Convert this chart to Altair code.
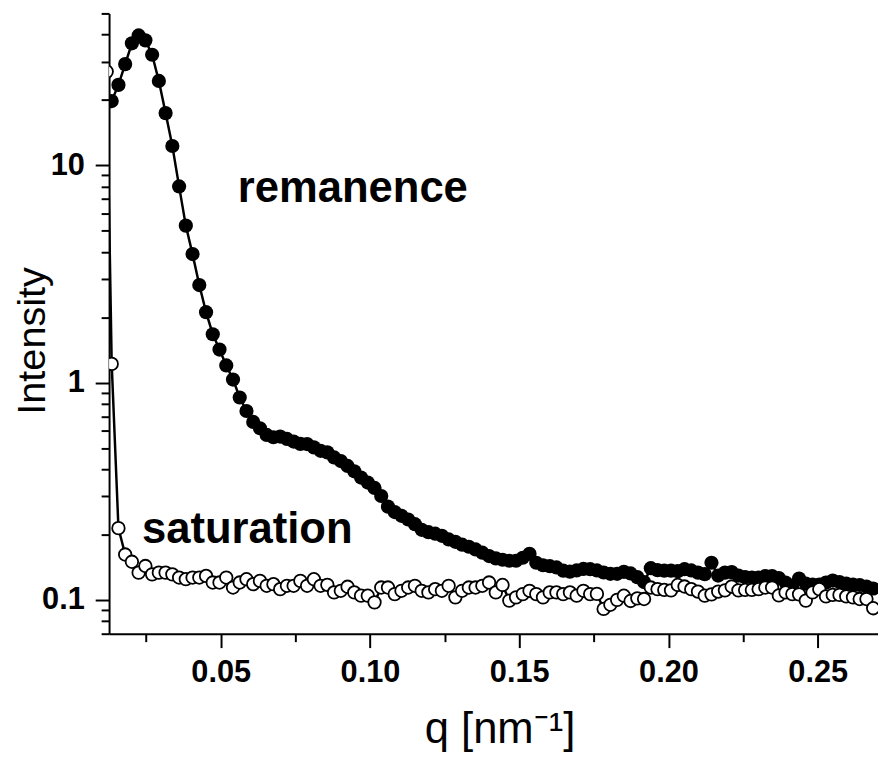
import altair as alt
import pandas as pd

# shared q grid (nm^-1)
q = [0.01348, 0.01574, 0.01799, 0.02025, 0.02251, 0.02477, 0.02702, 0.02928, 0.03154, 0.03380,
     0.03606, 0.03831, 0.04057, 0.04283, 0.04509, 0.04734, 0.04960, 0.05186, 0.05412, 0.05637,
     0.05863, 0.06089, 0.06315, 0.06540, 0.06766, 0.06992, 0.07218, 0.07443, 0.07669, 0.07895,
     0.08121, 0.08346, 0.08572, 0.08798, 0.09024, 0.09250, 0.09475, 0.09701, 0.09927, 0.10153,
     0.10378, 0.10604, 0.10830, 0.11056, 0.11281, 0.11507, 0.11733, 0.11959, 0.12184, 0.12410,
     0.12636, 0.12862, 0.13087, 0.13313, 0.13539, 0.13765, 0.13990, 0.14216, 0.14442, 0.14668,
     0.14894, 0.15119, 0.15345, 0.15571, 0.15797, 0.16022, 0.16248, 0.16474, 0.16700, 0.16925,
     0.17151, 0.17377, 0.17603, 0.17828, 0.18054, 0.18280, 0.18506, 0.18731, 0.18957, 0.19183,
     0.19409, 0.19634, 0.19860, 0.20086, 0.20312, 0.20538, 0.20763, 0.20989, 0.21215, 0.21441,
     0.21666, 0.21892, 0.22118, 0.22344, 0.22569, 0.22795, 0.23021, 0.23247, 0.23472, 0.23698,
     0.23924, 0.24150, 0.24375, 0.24601, 0.24827, 0.25053, 0.25278, 0.25504, 0.25730, 0.25956,
     0.26182, 0.26407, 0.26633, 0.26859]

# remanence (filled symbols)
remanence = [19.76, 23.45, 29.22, 36.41, 39.60, 37.58, 32.28, 24.45, 17.39, 12.27,
             8.00, 5.28, 3.905, 2.813, 2.111, 1.671, 1.420, 1.201, 1.034, 0.855,
             0.741, 0.660, 0.617, 0.575, 0.561, 0.565, 0.551, 0.536, 0.523, 0.522,
             0.504, 0.486, 0.478, 0.453, 0.436, 0.414, 0.391, 0.366, 0.347, 0.328,
             0.301, 0.269, 0.254, 0.244, 0.2347, 0.2234, 0.2104, 0.2052, 0.2020, 0.1974,
             0.1901, 0.1853, 0.1798, 0.1759, 0.1710, 0.1652, 0.1594, 0.1555, 0.1532, 0.1516,
             0.1516, 0.1565, 0.1632, 0.1485, 0.1446, 0.1431, 0.1413, 0.1365, 0.1351, 0.1369,
             0.1391, 0.1387, 0.1369, 0.1339, 0.1320, 0.1320, 0.1348, 0.1326, 0.1275, 0.1210,
             0.1401, 0.1372, 0.1365, 0.1365, 0.1358, 0.1387, 0.1368, 0.1337, 0.1316, 0.1485,
             0.1296, 0.1337, 0.1344, 0.1296, 0.1275, 0.1269, 0.1269, 0.1289, 0.1289, 0.1262,
             0.1204, 0.1166, 0.1256, 0.1191, 0.1179, 0.1179, 0.1204, 0.1229, 0.1210, 0.1191,
             0.1179, 0.1173, 0.1154, 0.1130]

# saturation (open symbols); two extra low-q points lie left of the axis
sat_q_extra = [0.0095, 0.0118]
sat_extra = [600.0, 27.0]
saturation = [1.220, 0.2142, 0.1620, 0.1500, 0.1337, 0.1434, 0.1313, 0.1337, 0.1337, 0.1313,
              0.1269, 0.1247, 0.1269, 0.1269, 0.1291, 0.1204, 0.1204, 0.1269, 0.1142, 0.1204,
              0.1247, 0.1183, 0.1225, 0.1163, 0.1183, 0.1122, 0.1163, 0.1163, 0.1225, 0.1163,
              0.1247, 0.1163, 0.1175, 0.1084, 0.1103, 0.1151, 0.1084, 0.1047, 0.1047, 0.0976,
              0.1142, 0.1142, 0.1065, 0.1103, 0.1142, 0.1163, 0.1103, 0.1084, 0.1122, 0.1103,
              0.1163, 0.1029, 0.1103, 0.1142, 0.1142, 0.1163, 0.1204, 0.1084, 0.1173, 0.0994,
              0.1029, 0.1065, 0.1103, 0.1065, 0.1029, 0.1084, 0.1084, 0.1065, 0.1084, 0.1047,
              0.1103, 0.1065, 0.1067, 0.0910, 0.0951, 0.1002, 0.1047, 0.0990, 0.1018, 0.1011,
              0.1142, 0.1122, 0.1113, 0.1108, 0.1173, 0.1154, 0.1122, 0.1094, 0.1047, 0.1062,
              0.1094, 0.1108, 0.1154, 0.1108, 0.1113, 0.1113, 0.1122, 0.1142, 0.1142, 0.1050,
              0.1084, 0.1065, 0.1062, 0.0994, 0.1084, 0.1122, 0.1039, 0.1056, 0.1056, 0.1039,
              0.1029, 0.1011, 0.1011, 0.0917]

# annotations
ann_text = ["remanence", "saturation"]
ann_q = [0.0557, 0.0236]
ann_i = [6.81, 0.183]

# axis ticks
x_ticks = [0.025, 0.05, 0.075, 0.10, 0.125, 0.15, 0.175, 0.20, 0.225, 0.25]
y_ticks = [0.07, 0.08, 0.09, 0.1, 0.2, 0.3, 0.4, 0.5, 0.6, 0.7, 0.8, 0.9,
           1, 2, 3, 4, 5, 6, 7, 8, 9, 10, 20, 30, 40, 50]

df_rem = pd.DataFrame({"q": q, "I": remanence})
df_sat = pd.DataFrame({"q": sat_q_extra + q, "I": sat_extra + saturation})
df_ann = pd.DataFrame({"q": ann_q, "I": ann_i, "t": ann_text})

FONT = "Liberation Sans"

x_enc = alt.X(
    "q:Q",
    scale=alt.Scale(domain=[0.0126, 0.2702], nice=False, zero=False),
    axis=alt.Axis(
        values=x_ticks,
        labelExpr="round(datum.value*1000) % 50 == 0 ? format(datum.value, '.2f') : ''",
        tickSize={"condition": {"test": "round(datum.value*1000) % 50 == 0", "value": 14}, "value": 8},
        labelPadding=10,
        title="q [nm⁻¹]",
        titleX=394,
        titleY=110,
        titleBaseline="alphabetic",
        titleAlign="center",
        titleFontSize=44,
    ),
)
y_enc = alt.Y(
    "I:Q",
    scale=alt.Scale(type="log", domain=[0.07, 50], nice=False),
    axis=alt.Axis(
        values=y_ticks,
        labelExpr="datum.value == 0.1 ? '0.1' : datum.value == 1 ? '1' : datum.value == 10 ? '10' : ''",
        tickSize={"condition": {"test": "datum.value == 0.1 || datum.value == 1 || datum.value == 10", "value": 14}, "value": 8},
        labelPadding=11,
        title="Intensity",
        titleX=-65,
        titleY=330,
        titleAngle=-90,
        titleBaseline="alphabetic",
        titleAlign="center",
        titleFontSize=40,
    ),
)

rem_line = alt.Chart(df_rem).mark_line(color="black", strokeWidth=2.5, clip=True).encode(x=x_enc, y=y_enc)
rem_pts = alt.Chart(df_rem).mark_circle(color="black", size=205, opacity=1, clip=True).encode(x=x_enc, y=y_enc)
sat_line = alt.Chart(df_sat).mark_line(color="black", strokeWidth=2.5, clip=True).encode(x=x_enc, y=y_enc)
sat_pts = alt.Chart(df_sat).mark_point(
    shape="circle", size=160, fill="white", fillOpacity=1, stroke="black", strokeWidth=1.8, opacity=1, clip=True
).encode(x=x_enc, y=y_enc)
ann = alt.Chart(df_ann).mark_text(
    align="left", baseline="alphabetic", font=FONT, fontWeight="bold", fontSize=44, color="black"
).encode(x=x_enc, y=y_enc, text="t:N")

chart = (
    alt.layer(rem_line, rem_pts, sat_line, sat_pts, ann)
    .properties(
        width=776,
        height=626,
        autosize=alt.AutoSizeParams(type="none"),
        padding={"left": 102, "top": 2, "right": 0, "bottom": 126},
        background="white",
    )
    .configure_view(strokeWidth=0)
    .configure_axis(
        grid=False,
        domainColor="black",
        domainWidth=2,
        tickColor="black",
        tickWidth=2,
        labelFont=FONT,
        labelFontWeight="bold",
        labelFontSize=31,
        labelColor="black",
        titleFont=FONT,
        titleFontWeight="normal",
        titleColor="black",
        labelOverlap=False,
        labelFlush=False,
    )
)

chart.save("out.html", embed_options={"renderer": "svg", "actions": False})
